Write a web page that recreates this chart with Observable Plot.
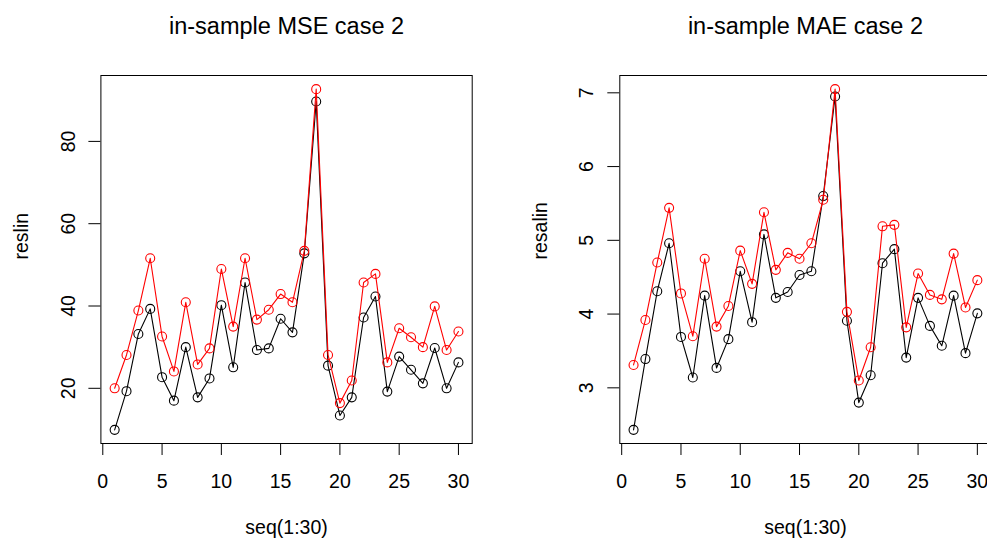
<!DOCTYPE html>
<html>
<head>
<meta charset="utf-8">
<script src="https://cdn.jsdelivr.net/npm/d3@7"></script>
<script src="https://cdn.jsdelivr.net/npm/@observablehq/plot@0.6"></script>
<style>
  html, body { margin: 0; padding: 0; background: #fff; overflow: hidden; }
  #wrap { position: relative; width: 987px; height: 541px; overflow: hidden; background: #fff; }
  #wrap > div { position: absolute; top: 0; }
  #wrap svg { max-width: none !important; }
</style>
</head>
<body>
<div id="wrap"><div id="p1"></div><div id="p2"></div></div>
<script>
const seqX = [1,2,3,4,5,6,7,8,9,10,11,12,13,14,15,16,17,18,19,20,21,22,23,24,25,26,27,28,29,30];

// in-sample MSE case 2
const mseBlack = [9.9,19.3,33.2,39.3,22.7,17.0,30.0,17.8,22.4,40.2,25.1,45.7,29.3,29.7,36.9,
                  33.6,52.8,89.7,25.5,13.4,17.8,37.2,42.3,19.2,27.7,24.5,21.2,29.8,20.0,26.3];
const mseRed   = [20.0,28.1,38.9,51.6,32.6,24.1,40.9,25.8,29.7,49.0,35.0,51.6,36.7,39.1,42.9,
                  40.9,53.4,92.7,28.1,16.4,21.9,45.7,47.8,26.3,34.6,32.4,30.0,39.9,29.3,33.8];

// in-sample MAE case 2
const maeBlack = [2.43,3.39,4.31,4.96,3.69,3.14,4.25,3.27,3.66,4.58,3.89,5.08,4.22,4.30,4.53,
                  4.58,5.60,6.95,3.91,2.80,3.17,4.69,4.88,3.41,4.22,3.84,3.57,4.25,3.47,4.01];
const maeRed   = [3.31,3.92,4.70,5.44,4.28,3.70,4.75,3.83,4.11,4.86,4.41,5.38,4.60,4.83,4.75,
                  4.96,5.55,7.05,4.03,3.10,3.55,5.19,5.21,3.82,4.55,4.26,4.20,4.82,4.09,4.46];

const xTicks = [0,5,10,15,20,25,30];
const mseTicks = [20,40,60,80];
const maeTicks = [3,4,5,6,7];

function rRange(arrs) {
  const all = arrs.flat();
  const lo = d3.min(all), hi = d3.max(all), r = hi - lo;
  return [lo - 0.04 * r, hi + 0.04 * r];
}

function panel({title, ylabel, black, red, yTicks, width, marginLeft, marginRight}) {
  const blackData = seqX.map((x, i) => ({x, y: black[i]}));
  const redData = seqX.map((x, i) => ({x, y: red[i]}));
  const xr = rRange([seqX]);
  return Plot.plot({
    width, height: 541,
    marginLeft, marginRight, marginTop: 75, marginBottom: 98,
    x: {domain: xr, axis: null},
    y: {domain: rRange([black, red]), axis: null},
    style: {fontFamily: "'Liberation Sans', Arial, sans-serif", fontSize: "19.5px", color: "black", background: "white", overflow: "visible", maxWidth: "none"},
    marks: [
      Plot.axisX({ticks: xTicks, tickSize: 12, tickFormat: () => "", label: null, stroke: "black"}),
      Plot.axisY({ticks: yTicks, tickSize: 12, tickFormat: () => "", label: null, stroke: "black"}),
      Plot.text(xTicks, {x: d => d, text: d => String(d), frameAnchor: "bottom", dy: 38.5, lineAnchor: "middle", fill: "black"}),
      Plot.text(yTicks, {y: d => d, text: d => String(d), frameAnchor: "left", dx: -26.4, rotate: -90, textAnchor: "middle", lineAnchor: "bottom", fill: "black"}),
      Plot.text([title], {frameAnchor: "top", dy: -49, lineAnchor: "middle", fontSize: 23.5, fill: "black"}),
      Plot.text(["seq(1:30)"], {frameAnchor: "bottom", dy: 84, lineAnchor: "middle", fill: "black"}),
      Plot.text([ylabel], {frameAnchor: "left", dx: -79.4, rotate: -90, lineAnchor: "middle", fill: "black"}),
      Plot.line(blackData, {x: "x", y: "y", stroke: "black", strokeWidth: 1.1}),
      Plot.dot(blackData, {x: "x", y: "y", r: 4.5, stroke: "black", fill: "none", strokeWidth: 1.1}),
      Plot.line(redData, {x: "x", y: "y", stroke: "#ff0000", strokeWidth: 1.1}),
      Plot.dot(redData, {x: "x", y: "y", r: 4.5, stroke: "#ff0000", fill: "none", strokeWidth: 1.1}),
      Plot.frame({stroke: "black", strokeWidth: 1})
    ]
  });
}

const p1 = document.getElementById("p1");
p1.style.left = "0px";
p1.style.width = "493px";
p1.append(panel({title: "in-sample MSE case 2", ylabel: "reslin", black: mseBlack, red: mseRed,
  yTicks: mseTicks, width: 493, marginLeft: 100.4, marginRight: 21.3}));

const p2 = document.getElementById("p2");
p2.style.left = "493px";
p2.style.width = "500px";
p2.append(panel({title: "in-sample MAE case 2", ylabel: "resalin", black: maeBlack, red: maeRed,
  yTicks: maeTicks, width: 500, marginLeft: 126.3, marginRight: 2.4}));
</script>
</body>
</html>
